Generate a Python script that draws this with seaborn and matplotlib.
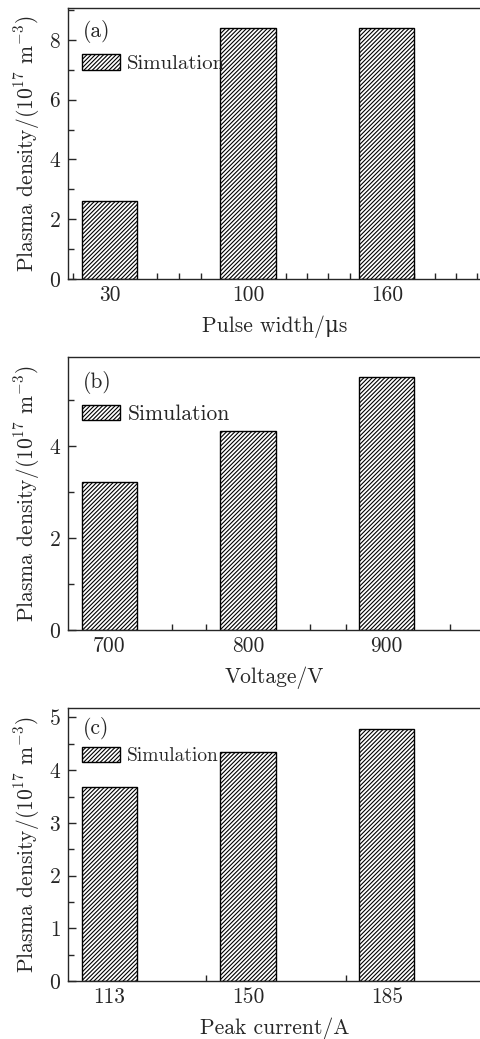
import numpy as np
import matplotlib
matplotlib.use("Agg")
import matplotlib.pyplot as plt
import seaborn as sns
from matplotlib.ticker import MultipleLocator, FixedLocator

# data
pulse_labels = ['30', '100', '160']
pulse_density = [2.62, 8.40, 8.40]

voltage_labels = ['700', '800', '900']
voltage_density = [3.22, 4.33, 5.49]

current_labels = ['113', '150', '185']
current_density = [3.69, 4.35, 4.79]

sns.set_style('ticks')
plt.rcParams['font.family'] = ['cmr10', 'DejaVu Serif']
plt.rcParams['mathtext.fontset'] = 'cm'
plt.rcParams['axes.formatter.use_mathtext'] = True
plt.rcParams['hatch.linewidth'] = 0.8
plt.rcParams['axes.linewidth'] = 1.0

FS = 15.5
ylab = r'Plasma density/(10$^{17}$ m$^{-3}$)'

fig = plt.figure(figsize=(4.81, 10.39), dpi=100)
W, H = 481, 1039

def add_ax(top, bottom):
    return fig.add_axes([68 / W, 1 - bottom / H, (W - 68) / W, (bottom - top) / H])

panels = [
    dict(top=8, bottom=279, labels=pulse_labels, vals=pulse_density, ymax=9.07,
         major=2, minor=1, xlabel='Pulse width/μs', tag='(a)', tagy=0.915, legy=0.83, legfs=15,
         xminor=[(p - 110) / 139 for p in [73, 95, 116, 158, 180, 202, 223, 244, 287, 308, 329, 351, 372, 415, 436, 457, 479]]),
    dict(top=357, bottom=630, labels=voltage_labels, vals=voltage_density, ymax=5.93,
         major=2, minor=1, xlabel='Voltage/V', tag='(b)', tagy=0.905, legy=0.826, legfs=15.5,
         xminor=[(p - 110) / 139 for p in [173, 207, 311, 347, 451]]),
    dict(top=708, bottom=981, labels=current_labels, vals=current_density, ymax=5.18,
         major=1, minor=0.5, xlabel='Peak current/A', tag='(c)', tagy=0.925, legy=0.857, legfs=14,
         xminor=[(p - 110) / 139 for p in [207, 347]]),
]

for p in panels:
    ax = add_ax(p['top'], p['bottom'])
    sns.barplot(x=p['labels'], y=p['vals'], ax=ax, color='white', edgecolor='black',
                linewidth=1.0, hatch='////////', width=0.4, label='Simulation', saturation=1)
    ax.set_xlim(-0.30, 2.68)
    ax.set_ylim(0, p['ymax'])
    ax.yaxis.set_major_locator(MultipleLocator(p['major']))
    ax.yaxis.set_minor_locator(MultipleLocator(p['minor']))
    ax.xaxis.set_minor_locator(FixedLocator(p['xminor']))
    ax.tick_params(axis='both', which='major', direction='in', labelsize=FS, length=6, width=1)
    ax.tick_params(axis='both', which='minor', direction='in', length=4, width=1)
    ax.tick_params(axis='x', which='major', length=0, pad=5)
    ax.tick_params(axis='y', which='major', pad=5)
    ax.spines['right'].set_visible(False)
    ax.set_ylabel(ylab, fontsize=FS, labelpad=5)
    ax.set_xlabel(p['xlabel'], fontsize=FS, labelpad=7)
    ax.text(0.035, p['tagy'], p['tag'], transform=ax.transAxes, fontsize=FS, va='center', ha='left')
    hl = 1.75 * 15.5 / p['legfs']
    ax.legend(loc='upper left', bbox_to_anchor=(0.034, p['legy']), frameon=False, fontsize=p['legfs'],
              handlelength=hl, handleheight=0.75 * 15.5 / p['legfs'], handletextpad=0.35,
              borderpad=0, borderaxespad=0)
    ax.grid(False)

fig.savefig('out.png', dpi=100)
